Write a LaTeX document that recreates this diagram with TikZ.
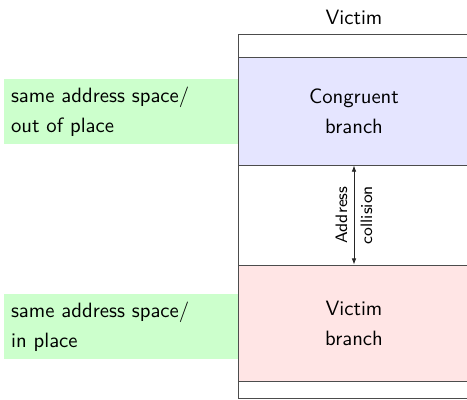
\documentclass[tikz,border=0pt]{standalone}
\usetikzlibrary{arrows.meta}
\tikzset{
  branchbox/.style={draw=black!70, minimum width=112pt, inner sep=0pt, align=center},
  spacebox/.style={fill=green!20, minimum width=113pt, minimum height=31.4pt,
    text width=106.2pt, inner xsep=3.4pt, inner ysep=0pt, align=left}
}
\begin{document}
\begin{tikzpicture}[x=0.483pt, y=-0.483pt, font=\sffamily\fontsize{10}{14.5}\selectfont]
    \useasboundingbox (0,0) rectangle (467,399);
    % Victim address space
    \node[draw=black!70, minimum width=112pt, minimum height=175.8pt] (victimspace) at (354,216) {};
    \node (title) at (354,17) {Victim};
    % Branches
    \node[branchbox, fill=blue!10, minimum height=52.2pt] (congruent) at (354,111) {Congruent\\branch};
    \node[branchbox, fill=red!10, minimum height=56pt] (victim) at (354,323) {Victim\\branch};
    % Collision between the two branches
    \draw[black!85, {Latex[length=3pt,width=2.2pt]}-{Latex[length=3pt,width=2.2pt]}] (congruent.south) -- (victim.north);
    \node[rotate=90, align=center, font=\sffamily\fontsize{8}{12}\selectfont] (collision) at (354,215) {Address\\collision};
    % Attack variants
    \node[spacebox] (outplace) at (121,111.5) {same address space/\\out of place};
    \node[spacebox] (inplace) at (121,326.5) {same address space/\\in place};
\end{tikzpicture}
\end{document}
